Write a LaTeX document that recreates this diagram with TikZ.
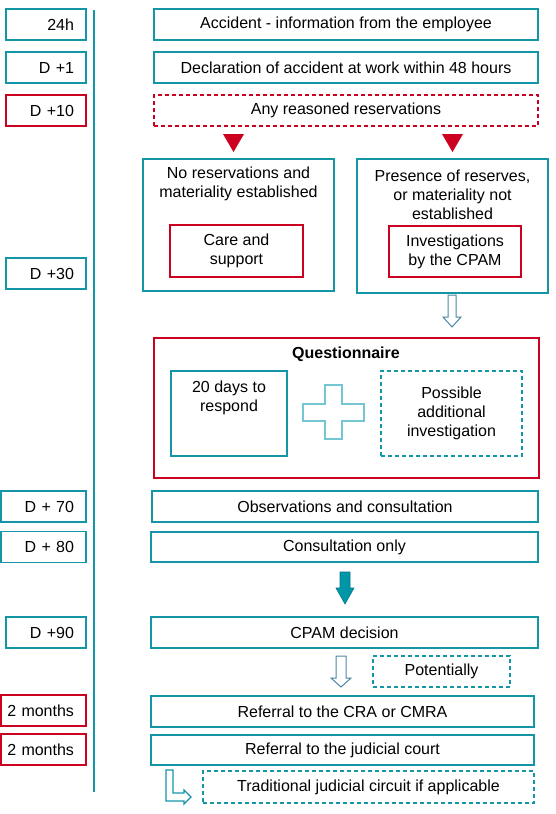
\documentclass[tikz,border=0pt]{standalone}
\usepackage{fontspec}
\setmainfont{Liberation Sans}

\definecolor{tealline}{RGB}{20,150,168}
\definecolor{redline}{RGB}{204,0,32}
\definecolor{arrowline}{RGB}{75,135,160}
\definecolor{arrowfill}{RGB}{0,150,168}
\definecolor{plusline}{RGB}{115,198,210}

\tikzset{
    tealbox/.style={draw=tealline, line width=1.3pt, inner sep=0pt, align=center},
    redbox/.style={draw=redline, line width=1.3pt, inner sep=0pt, align=center},
    dashbox/.style={dash pattern=on 4pt off 3pt},
    datebox/.style={text width=#1, minimum height=31pt, align=right},
    datebox/.default=80pt,
    stepbox/.style={minimum width=#1, minimum height=31pt},
}

\begin{document}
\begin{tikzpicture}[x=1pt, y=-1pt, font=\fontsize{16}{19}\selectfont]
        \useasboundingbox (0,0) rectangle (556,814);

        % time line
        \draw[tealline, line width=1.5pt] (94,10) -- (94,792);

        % dates
        \node[tealbox, datebox] (d24) at (46,24.5) {24h\kern12pt};
        \node[tealbox, datebox] (d1) at (46,67.5) {D +1\kern12pt};
        \node[redbox, datebox] (d10) at (46,110.5) {D +10\kern12pt};
        \node[tealbox, datebox] (d30) at (46,273.5) {D +30\kern12pt};
        \node[tealbox, datebox=85pt] (d70) at (43.5,506.5) {D + 70\kern12pt};
        \node[tealbox, datebox=85pt] (d80) at (43.5,547) {D + 80\kern12pt};
        \node[tealbox, datebox] (d90) at (46,632.5) {D +90\kern12pt};
        \node[redbox, datebox=85pt] (m1) at (43.5,710.5) {2 months\kern12pt};
        \node[redbox, datebox=85pt] (m2) at (43.5,749.5) {2 months\kern12pt};

        % steps
        \node[tealbox, stepbox=384pt] (accident) at (346,24.5) {Accident - information from the employee};
        \node[tealbox, stepbox=384pt] (declare) at (346,67.5) {Declaration of accident at work within 48 hours};
        \node[redbox, dashbox, stepbox=384pt] (reserv) at (346,110.5) {Any reasoned reservations};

        \fill[redline] (223,134) -- (244,134) -- (233.5,152) -- cycle;
        \fill[redline] (442,134) -- (463,134) -- (452.5,152) -- cycle;

        \node[tealbox, minimum width=191pt, minimum height=132pt] (noresv) at (238.5,225) {};
        \node[align=center] (noresvT) at (238.5,184) {No reservations and\\materiality established};
        \node[redbox, minimum width=133pt, minimum height=52pt] (care) at (236.5,251) {Care and\\support};

        \node[tealbox, minimum width=191pt, minimum height=134pt] (presence) at (452.5,226) {};
        \node[align=center] (presenceT) at (452.5,194.5) {Presence of reserves,\\or materiality not\\established};
        \node[redbox, minimum width=132pt, minimum height=51pt] (invest) at (455,251.5) {Investigations\\by the CPAM};

        \draw[arrowline, line width=1pt] (448,295) -- (456,295) -- (456,317) -- (461,317) -- (452,327) -- (443,317) -- (448,317) -- cycle;

        % questionnaire
        \node[redbox, minimum width=385pt, minimum height=140pt] (quest) at (346.5,408) {};
        \node (questT) at (346,354) {\textbf{Questionnaire}};
        \node[tealbox, minimum width=116pt, minimum height=85pt] (days) at (229,413.5) {};
        \node[align=center] (daysT) at (229,397.5) {20 days to\\respond};
        \draw[plusline, line width=1.3pt] (325,385) -- (342,385) -- (342,404) -- (364,404) -- (364,421) -- (342,421) -- (342,439) -- (325,439) -- (325,421) -- (303,421) -- (303,404) -- (325,404) -- cycle;
        \node[tealbox, dashbox, minimum width=141pt, minimum height=85pt] (possible) at (451.5,413.5) {Possible\\additional\\investigation};

        \node[tealbox, stepbox=386pt] (obs) at (345,506.5) {Observations and consultation};
        \node[tealbox, stepbox=387pt, minimum height=30pt] (consult) at (344.5,547) {Consultation only};

        \filldraw[fill=arrowfill, draw=arrowfill!80!black, line width=0.6pt] (340,572) -- (350,572) -- (350,588) -- (354,588) -- (345,604) -- (336,588) -- (340,588) -- cycle;

        \node[tealbox, stepbox=387pt] (cpam) at (344.5,632.5) {CPAM decision};

        \draw[arrowline, line width=1pt] (336,656) -- (346,656) -- (346,678) -- (351,678) -- (341,687) -- (331,678) -- (336,678) -- cycle;
        \node[tealbox, dashbox, stepbox=137pt] (potent) at (441.5,671.5) {Potentially};

        \node[tealbox, stepbox=383pt] (cra) at (342.5,711.5) {Referral to the CRA or CMRA};
        \node[tealbox, stepbox=383pt, minimum height=30pt] (court) at (342.5,750) {Referral to the judicial court};

        \draw[tealline, line width=1.2pt] (166,770) -- (173,770) -- (173,793) -- (184,793) -- (184,790) -- (191,797) -- (184,804) -- (184,801) -- (166,801) -- cycle;
        \node[tealbox, dashbox, stepbox=331pt, minimum height=32pt] (trad) at (368.5,787) {Traditional judicial circuit if applicable};

\end{tikzpicture}
\end{document}
